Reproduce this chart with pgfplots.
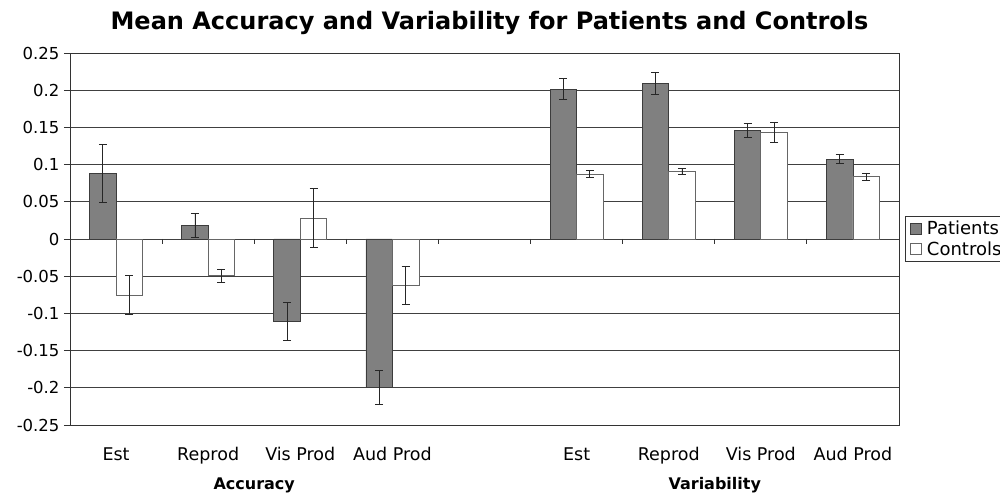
\documentclass[border=0pt]{standalone}
\usepackage{pgfplots}
\pgfplotsset{compat=1.18}
\usepackage{pgfplotstable}
\usepackage{fontspec}
\setmainfont{DejaVu Sans}
\definecolor{patfill}{RGB}{128,128,128}
\definecolor{edge}{RGB}{60,60,60}
\pgfplotstableread{
x y e
0 0.088 0.0385
1 0.018 0.016
2 -0.1106 0.0255
3 -0.1995 0.023
5 0.2016 0.014
6 0.2088 0.015
7 0.146 0.0095
8 0.1071 0.006
}\patients
\pgfplotstableread{
x y e
0 -0.0753 0.0264
1 -0.0493 0.009
2 0.0282 0.040
3 -0.0624 0.025
5 0.0874 0.0045
6 0.091 0.0036
7 0.1434 0.0135
8 0.0838 0.005
}\controls
\begin{document}
\begin{tikzpicture}
\begin{axis}[
  scale only axis, width=829pt, height=372pt,
  clip=false,
  xmin=-0.5, xmax=8.5, ymin=-0.25, ymax=0.25,
  ybar=0pt, bar width=26.5pt,
  xtick={0,1,2,3,5,6,7,8},
  xticklabels={Est,Reprod,Vis Prod,Aud Prod,Est,Reprod,Vis Prod,Aud Prod},
  x tick style={draw=none},
  xticklabel style={font=\fontsize{17.5}{20}\selectfont, anchor=base, yshift=-29pt},
  ytick={-0.25,-0.2,-0.15,-0.1,-0.05,0,0.05,0.1,0.15,0.2,0.25},
  yticklabels={-0.25,-0.2,-0.15,-0.1,-0.05,0,0.05,0.1,0.15,0.2,0.25},
  y tick style={black!80, line width=0.8pt},
  tick align=outside, major tick length=6pt,
  ytick pos=left,
  ymajorgrids, grid style={black!75, line width=0.8pt},
  axis line style={black!80, line width=0.9pt},
  yticklabel style={font=\fontsize{16.5}{19}\selectfont, xshift=-1pt},
  legend style={at={(1,0.5)}, anchor=west, xshift=6pt, draw=black!80, line width=0.9pt,
    font=\fontsize{18}{20}\selectfont, inner xsep=5pt, inner ysep=3pt, row sep=1pt,
    /tikz/every odd column/.append style={column sep=3pt}},
  legend cell align=left,
  legend image code/.code={\draw[#1, line width=0.5pt] (0pt,-5.5pt) rectangle (11pt,5.5pt);},
  error bars/y dir=both, error bars/y explicit,
  error bars/error bar style={black!85, line width=0.8pt},
  error bars/error mark options={rotate=90, mark size=4pt, black!85, line width=0.8pt},
]
\addplot[fill=patfill, draw=edge, line width=0.7pt] table[x=x, y=y, y error=e] {\patients};
\addplot[fill=white, draw=black!60, line width=0.7pt] table[x=x, y=y, y error=e] {\controls};
\legend{Patients,Controls}
\foreach \t in {0.5,1.5,...,7.5} {
  \edef\temp{\noexpand\draw[black!80, line width=0.8pt] (axis cs:\t,0) -- ([yshift=-5pt]axis cs:\t,0);}
  \temp
}
\node[font=\bfseries\fontsize{16}{18}\selectfont, anchor=base] at ([yshift=-64pt]axis cs:1.5,-0.25) {Accuracy};
\node[font=\bfseries\fontsize{16}{18}\selectfont, anchor=base] at ([yshift=-64pt]axis cs:6.5,-0.25) {Variability};
\node[font=\bfseries\fontsize{24}{27}\selectfont, anchor=base] at ([yshift=23pt, xshift=5pt]rel axis cs:0.5,1) {Mean Accuracy and Variability for Patients and Controls};
\end{axis}
\pgfresetboundingbox
\path (-70pt,-69pt) rectangle (930pt,425pt);
\end{tikzpicture}
\end{document}
